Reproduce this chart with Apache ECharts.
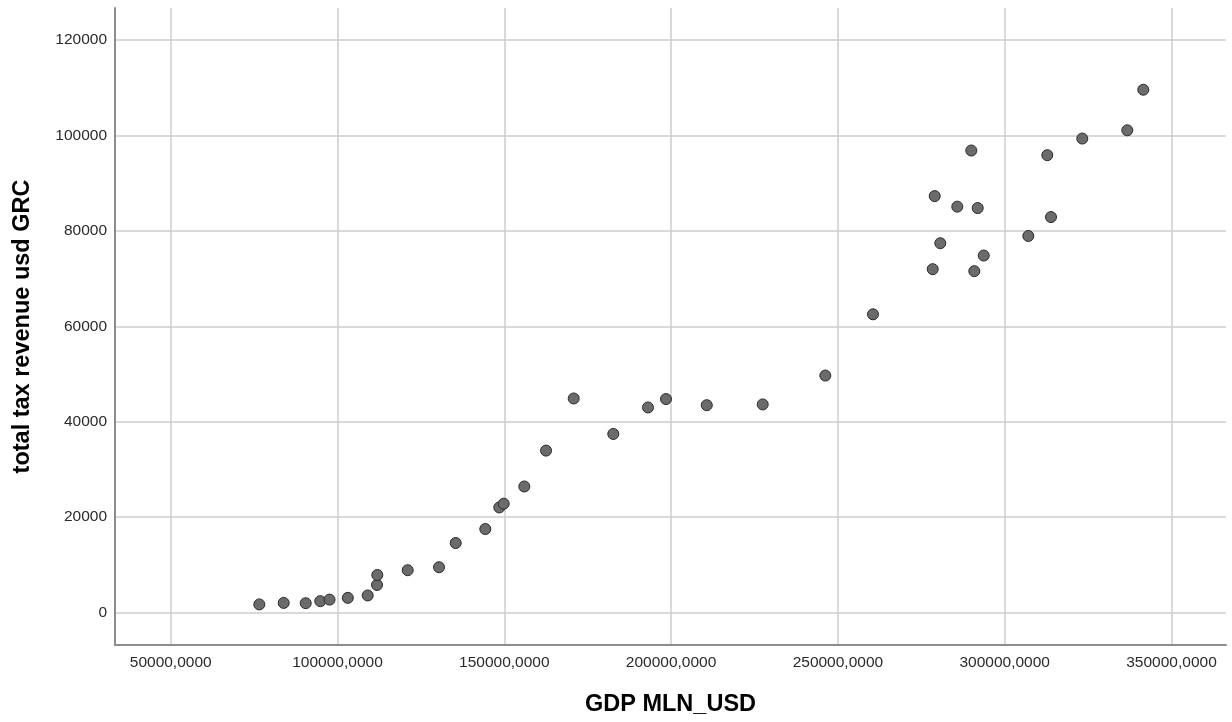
<!DOCTYPE html>
<html>
<head>
<meta charset="utf-8">
<script src="https://cdn.jsdelivr.net/npm/echarts@6/dist/echarts.min.js"></script>
<style>
html,body{margin:0;padding:0;background:#fff;}
#chart{width:1232px;height:722px;}
</style>
</head>
<body>
<div id="chart"></div>
<script>
// GDP (MLN USD) values
var gdp = [76560, 83870, 90470, 94840, 97600, 103090, 109050, 111840, 111930, 121040, 130430,
  135430, 144300, 148500, 149820, 156000, 162520, 170800, 182670, 193070, 198470, 210700,
  227460, 246230, 260520,
  278420, 279020, 280700, 285790, 289990, 290890, 291910, 293710, 307080, 312770, 313880,
  323260, 336750, 341550];
// total tax revenue usd GRC values
var tax = [1670, 1990, 1920, 2360, 2680, 3050, 3550, 5750, 7840, 8840, 9470,
  14550, 17480, 22010, 22790, 26400, 33930, 44860, 37420, 42980, 44740, 43450,
  43610, 49670, 62510,
  71980, 87300, 77420, 85090, 96860, 71560, 84790, 74840, 78940, 95880, 82910,
  99370, 101100, 109610];
var xTicks = [50000, 100000, 150000, 200000, 250000, 300000, 350000];
var yTicks = [0, 20000, 40000, 60000, 80000, 100000, 120000];
var xName = 'GDP MLN_USD';
var yName = 'total tax revenue usd GRC';

var points = gdp.map(function (g, i) { return [g, tax[i]]; });

var chart = echarts.init(document.getElementById('chart'));
var font = 'Liberation Sans, Arial, sans-serif';
chart.setOption({
  animation: false,
  backgroundColor: '#ffffff',
  grid: { left: 115, right: 6, top: 8, bottom: 75, containLabel: false },
  xAxis: {
    type: 'value',
    min: 33300, max: 366340,
    name: xName,
    nameLocation: 'middle',
    nameGap: 48,
    nameTextStyle: { fontFamily: font, fontSize: 23.5, fontWeight: 'bold', color: '#000' },
    axisLine: { show: true, onZero: false, lineStyle: { color: '#8c8c8c', width: 2 } },
    axisTick: { show: false, customValues: xTicks },
    axisLabel: {
      customValues: xTicks,
      margin: 10,
      fontFamily: font, fontSize: 15.5, color: '#2a2a2a',
      formatter: function (v) { return String(Math.round(v)) + ',0000'; }
    },
    splitLine: { show: true, lineStyle: { color: '#cccccc', width: 1.5 } }
  },
  yAxis: {
    type: 'value',
    min: -6840, max: 126750,
    name: yName,
    nameLocation: 'middle',
    nameGap: 80,
    nameRotate: 90,
    nameTextStyle: { fontFamily: font, fontSize: 23.5, fontWeight: 'bold', color: '#000' },
    axisLine: { show: true, onZero: false, lineStyle: { color: '#8c8c8c', width: 2 } },
    axisTick: { show: false, customValues: yTicks },
    axisLabel: {
      customValues: yTicks,
      margin: 8,
      fontFamily: font, fontSize: 15.5, color: '#2a2a2a',
      formatter: function (v) { return String(Math.round(v)); }
    },
    splitLine: { show: true, lineStyle: { color: '#cccccc', width: 1.5 } }
  },
  series: [{
    type: 'scatter',
    data: points,
    symbol: 'circle',
    symbolSize: 11,
    itemStyle: { color: '#6b6b6b', borderColor: '#2a2a2a', borderWidth: 1, opacity: 1 }
  }]
});
</script>
</body>
</html>
